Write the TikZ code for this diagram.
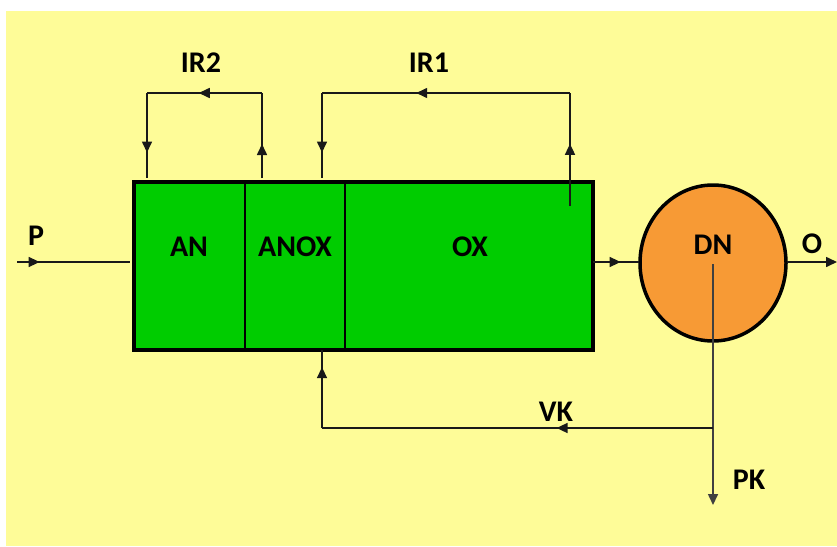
\documentclass[tikz,border=0pt]{standalone}
\usepackage{fontspec}
\setmainfont{Carlito}
\usetikzlibrary{arrows.meta,decorations.markings,shapes.geometric,calc}
\definecolor{bgyellow}{RGB}{254,252,152}
\definecolor{boxgreen}{RGB}{0,204,0}
\definecolor{dnorange}{RGB}{247,154,53}
\tikzset{
  lbl/.style={font=\bfseries\fontsize{30}{32}\selectfont, text=black, inner sep=0pt},
  flow/.style={line width=1.6pt, draw=black!90},
  midarrow/.style={postaction={decorate}, decoration={markings,
     mark=at position #1 with {\arrow{Triangle[length=11pt,width=10pt]}}}},
  endarrow/.style={-{Triangle[length=11pt,width=10pt]}},
}
\begin{document}
\begin{tikzpicture}[x=1pt,y=-1pt]
\useasboundingbox (0,0) rectangle (837,546);
\fill[white] (0,0) rectangle (837,546);
\fill[bgyellow] (6,11) rectangle (837,546);

% reactor box
\node[draw=black, line width=4pt, fill=boxgreen, minimum width=459pt, minimum height=168pt, inner sep=0pt, anchor=north west] (box) at (132,180) {};
\draw[line width=1.6pt] (245,180) -- (245,348);
\draw[line width=1.6pt] (345,180) -- (345,348);
\node[lbl] (an) at (189,247) {AN};
\node[lbl] (anox) at (295,247) {ANOX};
\node[lbl] (ox) at (470,247) {OX};

% clarifier
\node[draw=black, line width=3.5pt, fill=dnorange, ellipse, minimum width=146pt, minimum height=156pt, inner sep=0pt] (dn) at (713,263) {};
\node[lbl] (dnl) at (713,245) {DN};

% coordinates
\coordinate (pin) at (17,262);
\coordinate (boxleft) at (130,262);
\coordinate (boxright) at (593,262);
\coordinate (dnleft) at (639,262);
\coordinate (dnright) at (787,262);
\coordinate (oend) at (837,262);
\coordinate (dnc) at (713,264);
\coordinate (pkend) at (713,505);
\coordinate (vkj) at (713,428);
\coordinate (vkc) at (322,428);
\coordinate (vkin) at (322,350);

\coordinate (ir2a) at (262,178);
\coordinate (ir2b) at (262,93);
\coordinate (ir2c) at (147,93);
\coordinate (ir2d) at (147,178);
\coordinate (ir1a) at (570,206);
\coordinate (ir1b) at (570,93);
\coordinate (ir1c) at (322,93);
\coordinate (ir1d) at (322,178);

% P inflow
\draw[flow, midarrow=0.2] (pin) -- (boxleft);
\node[lbl] (pl) at (36,236) {P};
% box -> DN
\draw[flow, midarrow=0.6] (boxright) -- (dnleft);
% O outflow
\draw[flow, endarrow] (dnright) -- (oend);
\node[lbl] (ol) at (812,244) {O};
% PK
\draw[flow, draw=black!75, endarrow] (dnc) -- (pkend);
\node[lbl] (pkl) at (749,480) {PK};
% VK
\draw[flow, midarrow=0.4] (vkj) -- (vkc);
\draw[flow, midarrow=0.78] (vkc) -- (vkin);
\node[lbl] (vkl) at (556,412) {VK};

% IR2
\draw[flow, midarrow=0.4] (ir2a) -- (ir2b);
\draw[flow, midarrow=0.55] (ir2b) -- (ir2c);
\draw[flow, midarrow=0.7] (ir2c) -- (ir2d);
\node[lbl] (ir2l) at (201,63) {IR2};

% IR1
\draw[flow, midarrow=0.55] (ir1a) -- (ir1b);
\draw[flow, midarrow=0.62] (ir1b) -- (ir1c);
\draw[flow, midarrow=0.7] (ir1c) -- (ir1d);
\node[lbl] (ir1l) at (429,63) {IR1};
\end{tikzpicture}
\end{document}
